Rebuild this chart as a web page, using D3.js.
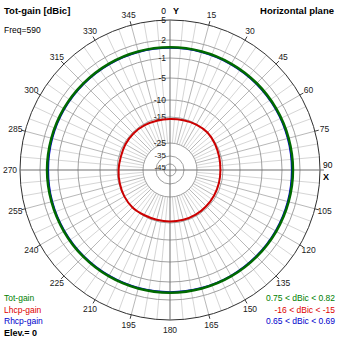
<!DOCTYPE html>
<html><head><meta charset="utf-8">
<script src="https://cdn.jsdelivr.net/npm/d3@7"></script>
<style>
body{margin:0;background:#fff}
svg{display:block;font-family:"Liberation Sans",Arial,sans-serif}
</style></head>
<body><svg id="c" width="339" height="339"></svg>
<script>
// ---- data ----
const angles = [0,15,30,45,60,75,90,105,120,135,150,165,180,195,210,225,240,255,270,285,300,315,330,345];
const totGain  = [0.79,0.79,0.78,0.78,0.78,0.80,0.82,0.80,0.78,0.77,0.78,0.79,0.79,0.79,0.78,0.77,0.76,0.78,0.82,0.80,0.78,0.75,0.77,0.79];
const rhcpGain = [0.69,0.69,0.68,0.68,0.68,0.67,0.65,0.67,0.68,0.68,0.69,0.69,0.69,0.69,0.68,0.68,0.67,0.67,0.65,0.67,0.68,0.67,0.68,0.69];
const lhcpGain = [-15.8,-15.6,-15.2,-15.0,-15.4,-15.8,-16.0,-15.9,-15.8,-15.7,-15.6,-15.6,-15.6,-15.6,-15.4,-15.0,-15.1,-15.4,-15.6,-15.8,-15.6,-15.5,-15.6,-15.8];
const ringValues = [-45,-35,-25,-15,-10,-5,-1,2,5];
const ringLabels = ["-45","-35","-25","-15","-10","-5","-1","2","5"];
const angleTicks = [0,15,30,45,60,75,90,105,120,135,150,165,180,195,210,225,240,255,270,285,300,315,330,345];
const spokeAngles = d3.range(0,360,5);
const legendNames = ["Tot-gain","Lhcp-gain","Rhcp-gain"];
const legendRanges = ["0.75 < dBic < 0.82","-16 < dBic < -15","0.65 < dBic < 0.69"];
const colors = ["#008000","#dd0000","#0000cc"];

// ---- layout ----
const cx = 170, cy = 170, R = 150;
const svg = d3.select("#c");
const g = svg.append("g").attr("transform",`translate(${cx},${cy})`);
const r = d3.scaleLinear().domain(ringValues).range([6,14,27,53,70,92,112,130,150]).clamp(true);
const a = d3.scaleLinear().domain([0,360]).range([0,2*Math.PI]);
const px = (deg,rad)=>rad*Math.sin(a(deg));
const py = (deg,rad)=>-rad*Math.cos(a(deg));

// spokes
g.selectAll("line.spoke").data(spokeAngles.filter(d=>d%90!==0)).join("line")
  .attr("x1",d=>px(d,r(-25))).attr("y1",d=>py(d,r(-25)))
  .attr("x2",d=>px(d,R)).attr("y2",d=>py(d,R))
  .attr("stroke",d=>d%15===0?"#b8b8b8":"#d6d6d6").attr("stroke-width",1);
// major ticks outside
g.selectAll("line.tick").data(angleTicks.filter(d=>d%90!==0)).join("line")
  .attr("x1",d=>px(d,R)).attr("y1",d=>py(d,R))
  .attr("x2",d=>px(d,R+4)).attr("y2",d=>py(d,R+4))
  .attr("stroke","#404040");
// rings
g.selectAll("circle.ring").data(ringValues.slice(0,-1)).join("circle")
  .attr("r",d=>r(d)).attr("fill","none").attr("stroke","#a0a0a0").attr("stroke-width",1);
g.append("circle").attr("r",R).attr("fill","none").attr("stroke","#303030").attr("stroke-width",1);
// axes
g.append("line").attr("x1",-R).attr("x2",R+4).attr("y1",0).attr("y2",0).attr("stroke","#707070");
g.append("line").attr("x1",0).attr("x2",0).attr("y1",-R).attr("y2",R).attr("stroke","#707070");

// ring labels
const labelOffset = {"-45":-3,"-35":1};
g.selectAll("text.rl").data(ringValues).join("text")
  .attr("x",-4).attr("y",d=>-r(d)-(labelOffset[d]||0)).attr("dy","0.35em")
  .attr("text-anchor","end").attr("font-size",d=>d<=-35?"8px":"8.5px").attr("fill","#202020")
  .text((d,i)=>ringLabels[i]);

// angle labels
g.selectAll("text.al").data(angleTicks.filter(d=>d!==0&&d!==90)).join("text")
  .attr("x",d=>px(d,160)).attr("y",d=>py(d,160)).attr("dy","0.35em")
  .attr("text-anchor","middle").attr("font-size","8.5px").attr("fill","#202020")
  .text(d=>d);
g.append("text").attr("x",-4).attr("y",-R-6).attr("text-anchor","end").attr("font-size","8.5px").text("0");
g.append("text").attr("x",3).attr("y",-R-6).attr("text-anchor","start").attr("font-size","9px").attr("font-weight","bold").text("Y");
g.append("text").attr("x",R+3).attr("y",-2).attr("font-size","8.5px").text("90");
g.append("text").attr("x",R+3).attr("y",10).attr("font-size","9px").attr("font-weight","bold").text("X");

// data lines
const line = d3.lineRadial().angle(d=>a(d[0])).radius(d=>r(d[1])).curve(d3.curveCardinalClosed);
const mk = vals => angles.map((d,i)=>[d,vals[i]]);
g.append("path").attr("d",line(mk(lhcpGain))).attr("fill","none").attr("stroke","#cc0000").attr("stroke-width",2);
g.append("path").attr("d",line(mk(rhcpGain))).attr("fill","none").attr("stroke","#0000cc").attr("stroke-width",2);
g.append("path").attr("d",line(mk(totGain))).attr("fill","none").attr("stroke","#006a00").attr("stroke-width",2.6);

// titles
svg.append("text").attr("x",4).attr("y",14).attr("font-size","9.5px").attr("font-weight","bold").text("Tot-gain [dBic]");
svg.append("text").attr("x",334).attr("y",14).attr("text-anchor","end").attr("font-size","9.5px").attr("font-weight","bold").text("Horizontal plane");
svg.append("text").attr("x",4).attr("y",33).attr("font-size","8.5px").text("Freq=590");

// legend
svg.selectAll("text.ln").data(legendNames).join("text")
  .attr("x",4).attr("y",(d,i)=>301+i*11.5).attr("font-size","8.5px").attr("fill",(d,i)=>colors[i]).text(d=>d);
svg.append("text").attr("x",4).attr("y",336).attr("font-size","9px").attr("font-weight","bold").text("Elev.= 0");
svg.selectAll("text.lr").data(legendRanges).join("text")
  .attr("x",335).attr("y",(d,i)=>301+i*11.5).attr("text-anchor","end").attr("font-size","8.5px").attr("fill",(d,i)=>colors[i]).text(d=>d);
</script></body></html>
